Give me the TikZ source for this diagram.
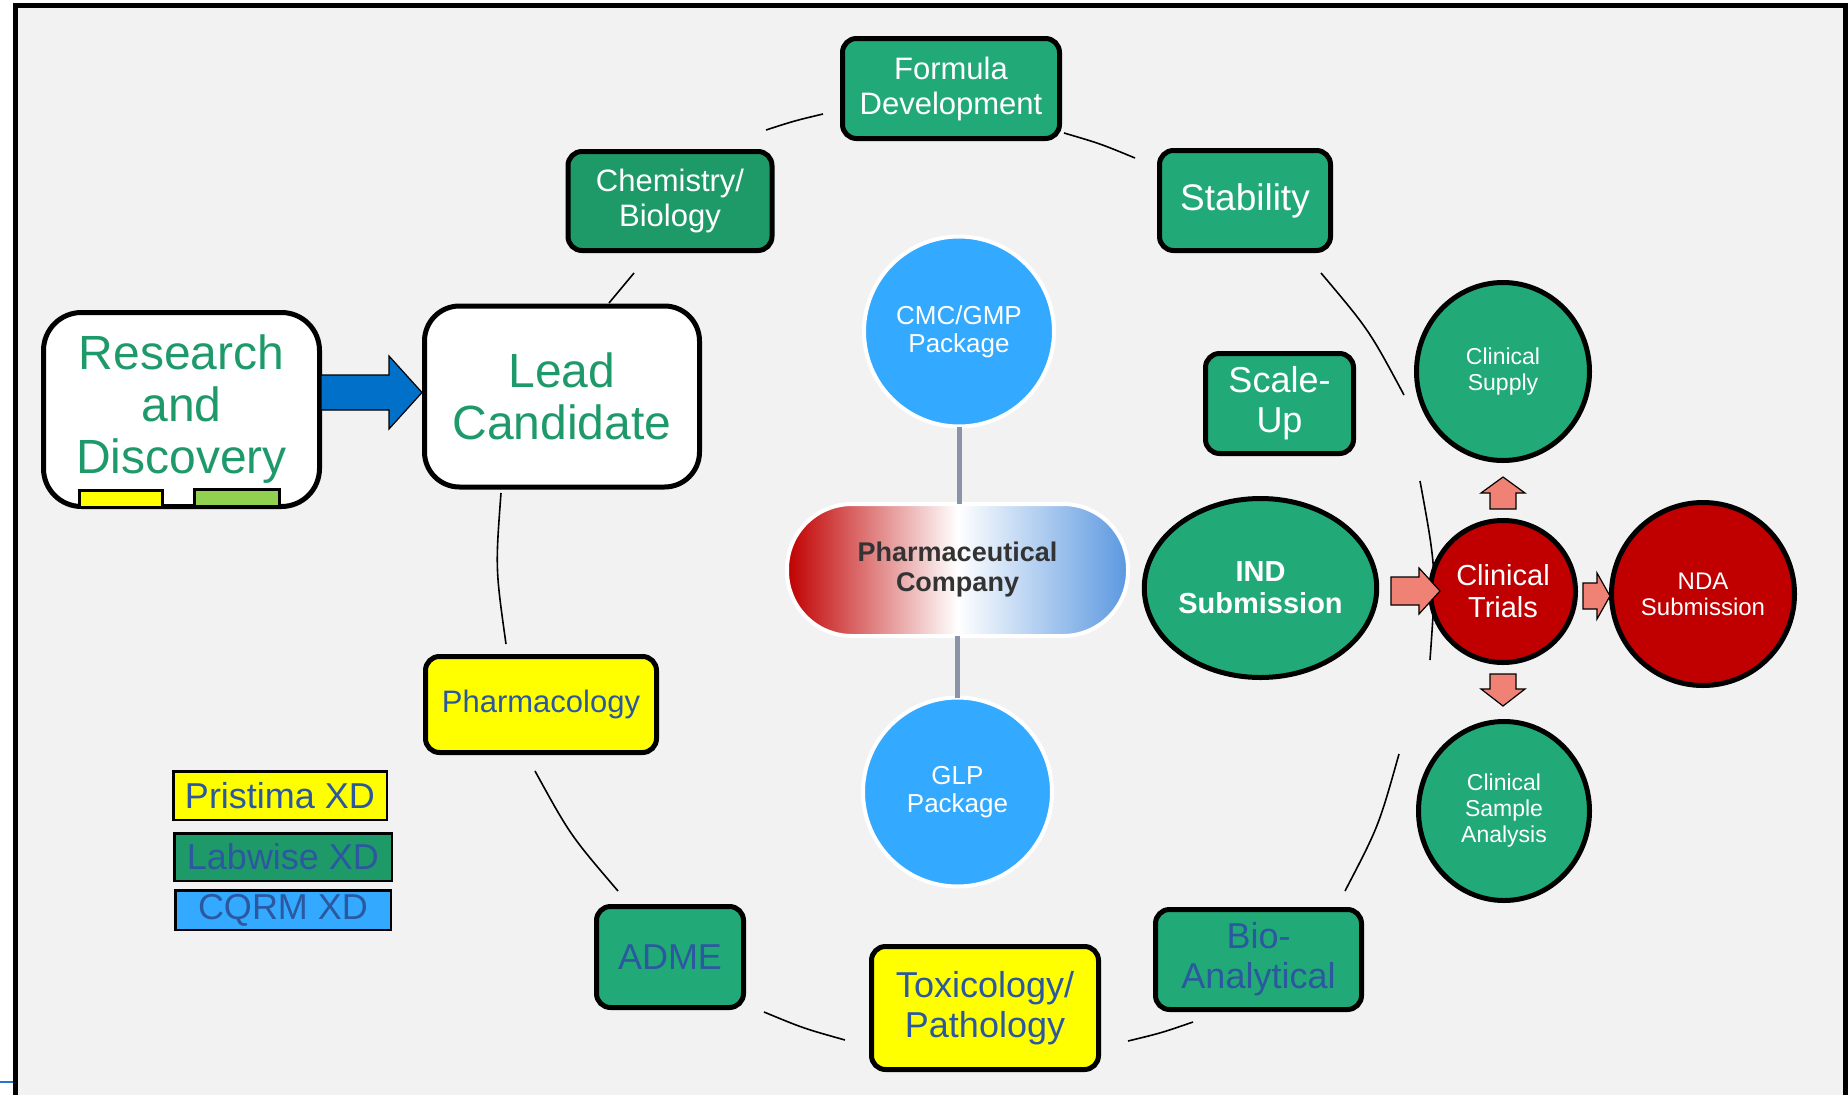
\documentclass[tikz,border=0pt]{standalone}
\usepackage{fontspec}
\setmainfont{Liberation Sans}
\usetikzlibrary{shapes.geometric,calc}
\definecolor{bg}{HTML}{F2F2F2}
\definecolor{gA}{HTML}{21AA78}
\definecolor{gB}{HTML}{1E9A69}
\definecolor{gT}{HTML}{1E9A6A}
\definecolor{bT}{HTML}{2C58A0}
\definecolor{cB}{HTML}{33A9FF}
\definecolor{rD}{HTML}{C00000}
\definecolor{sal}{HTML}{F08275}
\definecolor{aB}{HTML}{0070C8}
\definecolor{yl}{HTML}{FFFF00}
\definecolor{lg}{HTML}{92D050}
\definecolor{gr}{HTML}{8A94A8}
\definecolor{pB}{HTML}{5B98E0}
\definecolor{tx}{HTML}{333333}
\definecolor{edgeblue}{HTML}{1F77D0}
\newcommand\fs[2]{\fontsize{#1}{#2}\selectfont}
\begin{document}
\begin{tikzpicture}[x=1pt,y=-1pt,
  every node/.style={inner sep=0pt, outer sep=0pt, align=center},
  box/.style={draw=black, line width=5pt, rounded corners=14pt, text=white},
  oval/.style={ellipse, draw=black, line width=5pt, text=white},
  bcirc/.style={circle, draw=white, line width=4pt, fill=cB, text=white, font=\fs{26}{28}},
  leg/.style={draw=black, line width=2.5pt, text=bT, font=\fs{36}{40}},
  arcline/.style={draw=black, line width=1.6pt},
  blk/.style={draw=black, line width=1.2pt, line join=miter},
  conn/.style={draw=gr, line width=5pt}]
\useasboundingbox (0,0) rectangle (1848,1095);
\fill[white] (0,0) rectangle (1848,1095);
\fill[bg] (15.5,5.5) rectangle (1845.5,1095);
\draw[line width=5pt] (15.5,1095) -- (15.5,5.5) -- (1845.5,5.5) -- (1845.5,1095);
\draw[edgeblue, line width=2pt] (0,1082) -- (13,1082);

% ring segments
\coordinate (s1a) at (609,303);  \coordinate (s1b) at (634,273);
\coordinate (s2a) at (766,130);  \coordinate (s2b) at (823,114);
\coordinate (s3a) at (1064,133); \coordinate (s3b) at (1135,158);
\coordinate (s4a) at (1321,273); \coordinate (s4b) at (1404,395);
\coordinate (s5a) at (1420,481); \coordinate (s5b) at (1430,660);
\coordinate (s6a) at (1399,754); \coordinate (s6b) at (1345,891);
\coordinate (s7a) at (1193,1022);\coordinate (s7b) at (1128,1041);
\coordinate (s8a) at (845,1040); \coordinate (s8b) at (764,1012);
\coordinate (s9a) at (618,891);  \coordinate (s9b) at (535,771);
\coordinate (s10a) at (506,644); \coordinate (s10b) at (501,493);
\draw[arcline] (s1a) -- (s1b);
\draw[arcline] (s2a) .. controls (794.1,120.9) .. (s2b);
\draw[arcline] (s3a) .. controls (1100.1,143.6) .. (s3b);
\draw[arcline] (s4a) .. controls (1369.1,330.0) .. (s4b);
\draw[arcline] (s5a) .. controls (1436.4,570.3) .. (s5b);
\draw[arcline] (s6a) .. controls (1378.6,826.5) .. (s6b);
\draw[arcline] (s7a) .. controls (1161.1,1033) .. (s7b);
\draw[arcline] (s8a) .. controls (803.6,1028.4) .. (s8b);
\draw[arcline] (s9a) .. controls (570.2,835.1) .. (s9b);
\draw[arcline] (s10a) .. controls (495.4,568.4) .. (s10b);

% left boxes
\node[box, fill=white, rounded corners=38pt, text=gT, font=\fs{48}{52},
  minimum width=276pt, minimum height=194pt] (rd) at (181.5,409.5) {Research\\and\\Discovery};
\node[draw=black, line width=3pt, fill=yl, minimum width=83pt, minimum height=17pt] (rdy) at (121,498.5) {};
\node[draw=black, line width=3pt, fill=lg, minimum width=85pt, minimum height=17pt] (rdg) at (237,497.5) {};
\node[box, fill=white, rounded corners=35pt, text=gT, font=\fs{48}{52},
  minimum width=275pt, minimum height=181pt] (lc) at (562,396.5) {Lead\\Candidate};

% ring boxes
\node[box, fill=gB, font=\fs{31}{35}, minimum width=204pt, minimum height=99pt] (cb) at (670,201) {Chemistry/\\Biology};
\node[box, fill=gA, font=\fs{31}{35}, minimum width=217pt, minimum height=100pt] (fd) at (951,88.5) {Formula\\Development};
\node[box, fill=gA, font=\fs{37}{40}, minimum width=171pt, minimum height=100pt] (st) at (1245,200.5) {Stability};
\node[box, fill=gA, font=\fs{36}{40}, minimum width=148pt, minimum height=100pt] (su) at (1279.5,403.5) {Scale-\\Up};
\node[box, fill=yl, text=bT, font=\fs{31}{35}, minimum width=231pt, minimum height=96pt] (ph) at (541,704.5) {Pharmacology};
\node[box, fill=gA, text=bT, font=\fs{36}{40}, minimum width=147pt, minimum height=101pt] (adme) at (670,957) {ADME};
\node[box, fill=yl, text=bT, font=\fs{36}{40}, minimum width=227pt, minimum height=123pt] (tp) at (985,1008) {Toxicology/\\Pathology};
\node[box, fill=gA, text=bT, font=\fs{36}{40}, minimum width=206pt, minimum height=100pt] (ba) at (1258.5,959.5) {Bio-\\Analytical};

% ovals
\node[oval, fill=gA, font=\fs{23}{26}, minimum width=173pt, minimum height=178pt] (cs) at (1503,371.5) {Clinical\\Supply};
\node[oval, fill=rD, font=\fs{29}{32}, minimum width=145pt, minimum height=142pt] (ct) at (1503,591.5) {Clinical\\Trials};
\node[oval, fill=rD, font=\fs{24}{26}, minimum width=183pt, minimum height=183pt] (nda) at (1703,594) {NDA\\Submission};
\node[oval, fill=gA, font=\bfseries\fs{29}{32}, minimum width=232pt, minimum height=179pt] (ind) at (1260.5,588) {IND\\Submission};
\node[oval, fill=gA, font=\fs{23}{26}, minimum width=171pt, minimum height=179pt] (csa) at (1504,811) {Clinical\\Sample\\Analysis};

% centre
\node[bcirc, minimum size=190pt] (cmc) at (959,331.5) {CMC/GMP\\Package};
\node[bcirc, minimum size=189pt] (glp) at (957.5,792) {GLP\\Package};
\node[draw=white, line width=4pt, rounded corners=65pt, left color=rD, right color=pB, middle color=white,
  text=tx, font=\bfseries\fs{27}{30}, minimum width=341pt, minimum height=132pt] (pc) at (957.5,570) {Pharmaceutical\\Company};
\draw[conn] (cmc.south) -- (cmc.south |- pc.north);
\draw[conn] (glp.north |- pc.south) -- (glp.north);

% legend
\node[leg, fill=yl, minimum width=213.5pt, minimum height=48.5pt] (pr) at (280,795.5) {Pristima XD};
\node[leg, fill=gB, minimum width=217.5pt, minimum height=47.5pt] (lw) at (283,857) {Labwise XD};
\node[leg, fill=cB, minimum width=215.5pt, minimum height=39.5pt] (cq) at (283,910) {CQRM XD};

% block arrows
\filldraw[blk, fill=aB] (321,375) -- (389,375) -- (389,356) -- (422,392.5) -- (389,429) -- (389,410) -- (321,410) -- cycle;
\filldraw[blk, fill=sal] (1391,577) -- (1419,577) -- (1419,568) -- (1440,591) -- (1419,614) -- (1419,605) -- (1391,605) -- cycle;
\filldraw[blk, fill=sal] (1583,583) -- (1597,583) -- (1597,573) -- (1610,596) -- (1597,619) -- (1597,609) -- (1583,609) -- cycle;
\filldraw[blk, fill=sal] (1490,509) -- (1490,493) -- (1481,493) -- (1503,477) -- (1525,493) -- (1516,493) -- (1516,509) -- cycle;
\filldraw[blk, fill=sal] (1490,674) -- (1490,689) -- (1481,689) -- (1503,706) -- (1525,689) -- (1516,689) -- (1516,674) -- cycle;
\end{tikzpicture}
\end{document}
